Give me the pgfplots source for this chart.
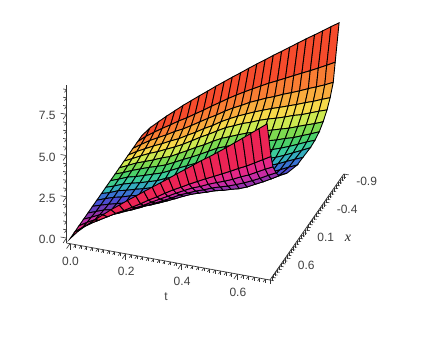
\documentclass[border=0pt]{standalone}
\usepackage{pgfplots}
\pgfplotsset{compat=1.18}
\usepackage{fontspec}
\setmainfont{Liberation Sans}
\newfontfamily\serifit{Liberation Serif}
\begin{document}
\begin{tikzpicture}[x=1pt,y=1pt]
\path[use as bounding box] (0,0) rectangle (426,341);
\begin{axis}[
  at={(108.9pt,158.1pt)},anchor=origin,
  x={(-278.8pt,50.7pt)},y={(38.9pt,55.8pt)},z={(0pt,16.5pt)},
  xmin=-0.717,xmax=0.0125,ymin=-1,ymax=0.9,zmin=-0.3,zmax=9.27,
  clip=false,
  axis x line=none,axis z line=none,axis y line=left,
  axis line style={-,line width=0.7pt,black!80},
  tick style={line width=0.6pt,black!80},tick align=outside,
  major tick length=5pt,minor tick length=4pt,
  xtick=\empty,ztick=\empty,
  ytick={-0.6,-0.1,0.4,0.9},yticklabels={0.6,0.1,-0.4,-0.9},
  minor ytick={-1,-0.95,-0.9,-0.85,-0.8,-0.75,-0.7,-0.65,-0.55,-0.5,-0.45,-0.4,-0.35,-0.3,-0.25,-0.2,-0.15,-0.05,0,0.05,0.1,0.15,0.2,0.25,0.3,0.35,0.45,0.5,0.55,0.6,0.65,0.7,0.75,0.8,0.85},
  tick label style={font=\fontsize{12}{14}\selectfont,text=black!75},
  yticklabel style={anchor=west,xshift=4pt,yshift=-6.5pt},
]
\end{axis}
\begin{axis}[
  at={(108.9pt,158.1pt)},anchor=origin,
  x={(278.8pt,-50.7pt)},y={(38.9pt,55.8pt)},z={(0pt,16.5pt)},
  xmin=-0.0125,xmax=0.717,ymin=-1,ymax=0.9,zmin=-0.3,zmax=9.27,
  clip=false,
  axis x line=bottom,axis y line=none,axis z line=left,
  axis line style={-,line width=0.7pt,black!80},
  tick style={line width=0.6pt,black!80},tick align=outside,
  major tick length=6pt,minor tick length=3.5pt,
  xtick={0,0.2,0.4,0.6},xticklabels={0.0,0.2,0.4,0.6},
  minor xtick={0.02,0.04,0.06,0.08,0.1,0.12,0.14,0.16,0.18,0.22,0.24,0.26,0.28,0.3,0.32,0.34,0.36,0.38,0.42,0.44,0.46,0.48,0.5,0.52,0.54,0.56,0.58,0.62,0.64,0.66,0.68,0.7},
  ytick=\empty,
  ztick={0,2.5,5,7.5},zticklabels={0.0,2.5,5.0,7.5},
  minor ztick={0.5,1,1.5,2,3,3.5,4,4.5,5.5,6,6.5,7,8,8.5,9},
  tick label style={font=\fontsize{12}{14}\selectfont,text=black!75},
  xticklabel style={anchor=center,xshift=4pt,yshift=-13pt},
  zticklabel style={anchor=east,xshift=-4pt,yshift=3.5pt},
  colormap={rb}{rgb255=(245,50,40) rgb255=(250,150,55) rgb255=(245,240,80) rgb255=(85,210,80) rgb255=(50,200,180) rgb255=(60,85,220) rgb255=(125,50,175) rgb255=(225,40,160) rgb255=(240,35,60)},
  point meta min=0,point meta max=16,
]
\addplot3[surf,shader=faceted,faceted color=black,line width=0.9pt,z buffer=none,mesh/cols=25,mesh/rows=17,
  point meta={floor(\coordindex/25)}]
table[row sep=\\,x=t,y=y,z=u]{t y u\\
0 .85 0\\.029 .85 .55\\.059 .85 1.01\\.088 .85 1.44\\.118 .85 1.86\\.147 .85 2.27\\.177 .85 2.66\\.206 .85 3.04\\.236 .85 3.42\\.265 .85 3.80\\.295 .85 4.17\\.324 .85 4.53\\.354 .85 4.89\\.383 .85 5.25\\.412 .85 5.60\\.442 .85 5.95\\.471 .85 6.30\\.501 .85 6.64\\.530 .85 6.98\\.560 .85 7.33\\.589 .85 7.67\\.619 .85 8.00\\.648 .85 8.33\\.678 .85 8.68\\.707 .85 9.00\\
0 .74 0\\.029 .74 .40\\.059 .74 .75\\.088 .74 1.07\\.118 .74 1.38\\.147 .74 1.70\\.177 .74 1.99\\.206 .74 2.31\\.236 .74 2.63\\.265 .74 2.96\\.295 .74 3.28\\.324 .74 3.60\\.354 .74 3.91\\.383 .74 4.19\\.412 .74 4.46\\.442 .74 4.73\\.471 .74 4.99\\.501 .74 5.23\\.530 .74 5.47\\.560 .74 5.72\\.589 .74 5.96\\.619 .74 6.20\\.648 .74 6.45\\.678 .74 6.71\\.707 .75 6.95\\
0 .62 0\\.029 .62 .32\\.059 .63 .62\\.088 .63 .88\\.118 .63 1.14\\.147 .64 1.40\\.177 .64 1.65\\.206 .64 1.94\\.236 .65 2.23\\.265 .65 2.53\\.295 .65 2.82\\.324 .66 3.11\\.354 .66 3.40\\.383 .66 3.64\\.412 .67 3.88\\.442 .67 4.10\\.471 .67 4.32\\.501 .67 4.51\\.530 .68 4.70\\.560 .68 4.89\\.589 .68 5.09\\.619 .69 5.28\\.648 .69 5.48\\.678 .69 5.69\\.707 .70 5.90\\
0 .50 0\\.029 .51 .27\\.059 .51 .53\\.088 .52 .75\\.118 .52 .98\\.147 .53 1.20\\.177 .53 1.43\\.206 .54 1.69\\.236 .54 1.97\\.265 .55 2.25\\.295 .55 2.52\\.324 .56 2.81\\.354 .56 3.08\\.383 .57 3.30\\.412 .57 3.51\\.442 .58 3.70\\.471 .58 3.89\\.501 .59 4.05\\.530 .59 4.21\\.560 .60 4.36\\.589 .60 4.53\\.619 .61 4.70\\.648 .61 4.87\\.678 .62 5.05\\.707 .62 5.24\\
0 .39 0\\.029 .39 .24\\.059 .40 .47\\.088 .41 .67\\.118 .41 .87\\.147 .42 1.07\\.177 .43 1.27\\.206 .43 1.52\\.236 .44 1.79\\.265 .45 2.06\\.295 .45 2.33\\.324 .46 2.59\\.354 .47 2.85\\.383 .47 3.05\\.412 .48 3.24\\.442 .48 3.41\\.471 .49 3.58\\.501 .50 3.72\\.530 .50 3.86\\.560 .51 3.99\\.589 .52 4.14\\.619 .52 4.28\\.648 .53 4.44\\.678 .54 4.60\\.707 .54 4.77\\
0 .27 0\\.029 .28 .20\\.059 .29 .41\\.088 .29 .58\\.118 .30 .74\\.147 .31 .92\\.177 .31 1.09\\.206 .32 1.33\\.236 .33 1.57\\.265 .34 1.82\\.295 .34 2.07\\.324 .35 2.33\\.354 .36 2.57\\.383 .36 2.76\\.412 .37 2.93\\.442 .38 3.09\\.471 .38 3.24\\.501 .39 3.36\\.530 .40 3.48\\.560 .41 3.60\\.589 .41 3.74\\.619 .42 3.90\\.648 .43 4.05\\.678 .43 4.22\\.707 .44 4.39\\
0 .16 0\\.029 .16 .17\\.059 .17 .36\\.088 .18 .51\\.118 .19 .66\\.147 .19 .81\\.177 .20 .96\\.206 .21 1.17\\.236 .22 1.40\\.265 .22 1.63\\.295 .23 1.86\\.324 .24 2.10\\.354 .25 2.35\\.383 .25 2.53\\.412 .26 2.69\\.442 .27 2.84\\.471 .28 2.98\\.501 .28 3.09\\.530 .29 3.20\\.560 .30 3.31\\.589 .31 3.45\\.619 .31 3.60\\.648 .32 3.77\\.678 .33 3.94\\.707 .34 4.12\\
0 .04 0\\.029 .05 .15\\.059 .06 .33\\.088 .06 .45\\.118 .07 .58\\.147 .08 .71\\.177 .09 .84\\.206 .10 1.04\\.236 .11 1.26\\.265 .11 1.48\\.295 .12 1.69\\.324 .13 1.93\\.354 .14 2.17\\.383 .15 2.34\\.412 .15 2.50\\.442 .16 2.65\\.471 .17 2.78\\.501 .18 2.88\\.530 .19 2.98\\.560 .19 3.10\\.589 .20 3.24\\.619 .21 3.41\\.648 .22 3.59\\.678 .23 3.79\\.707 .23 3.98\\
0 -.08 0\\.029 -.07 .14\\.059 -.06 .31\\.088 -.05 .42\\.118 -.05 .54\\.147 -.04 .66\\.177 -.03 .78\\.206 -.02 .97\\.236 -.02 1.17\\.265 -.01 1.38\\.295 0 1.58\\.324 .01 1.81\\.354 .02 2.05\\.383 .02 2.22\\.412 .03 2.38\\.442 .04 2.52\\.471 .04 2.65\\.501 .05 2.75\\.530 .06 2.85\\.560 .07 2.97\\.589 .07 3.12\\.619 .08 3.31\\.648 .09 3.51\\.678 .10 3.72\\.707 .11 3.93\\
0 -.19 0\\.029 -.19 .14\\.059 -.18 .32\\.088 -.18 .43\\.118 -.17 .55\\.147 -.17 .67\\.177 -.16 .80\\.206 -.16 .99\\.236 -.15 1.19\\.265 -.15 1.40\\.295 -.14 1.60\\.324 -.14 1.83\\.354 -.13 2.08\\.383 -.13 2.25\\.412 -.12 2.41\\.442 -.12 2.55\\.471 -.11 2.68\\.501 -.11 2.79\\.530 -.10 2.89\\.560 -.10 3.01\\.589 -.09 3.17\\.619 -.09 3.36\\.648 -.08 3.56\\.678 -.08 3.78\\.707 -.08 3.99\\
0 -.31 0\\.029 -.30 .15\\.059 -.30 .32\\.088 -.30 .43\\.118 -.29 .56\\.147 -.29 .68\\.177 -.29 .81\\.206 -.28 1.00\\.236 -.28 1.20\\.265 -.28 1.41\\.295 -.27 1.62\\.324 -.27 1.85\\.354 -.27 2.09\\.383 -.26 2.27\\.412 -.26 2.43\\.442 -.26 2.57\\.471 -.25 2.71\\.501 -.25 2.81\\.530 -.25 2.92\\.560 -.25 3.04\\.589 -.24 3.20\\.619 -.24 3.39\\.648 -.24 3.60\\.678 -.23 3.82\\.707 -.23 4.03\\
0 -.42 0\\.029 -.42 .16\\.059 -.43 .34\\.088 -.43 .47\\.118 -.43 .60\\.147 -.44 .73\\.177 -.44 .85\\.206 -.44 1.06\\.236 -.44 1.26\\.265 -.45 1.48\\.295 -.45 1.69\\.324 -.45 1.93\\.354 -.45 2.18\\.383 -.46 2.37\\.412 -.46 2.55\\.442 -.46 2.71\\.471 -.47 2.86\\.501 -.47 2.98\\.530 -.47 3.10\\.560 -.47 3.25\\.589 -.48 3.44\\.619 -.48 3.67\\.648 -.48 3.91\\.678 -.48 4.16\\.707 -.49 4.42\\
0 -.54 0\\.029 -.54 .18\\.059 -.55 .40\\.088 -.56 .54\\.118 -.56 .68\\.147 -.57 .83\\.177 -.58 .96\\.206 -.58 1.18\\.236 -.59 1.40\\.265 -.60 1.64\\.295 -.60 1.86\\.324 -.61 2.11\\.354 -.62 2.38\\.383 -.62 2.59\\.412 -.63 2.78\\.442 -.64 2.97\\.471 -.64 3.14\\.501 -.65 3.29\\.530 -.65 3.44\\.560 -.66 3.61\\.589 -.67 3.83\\.619 -.67 4.09\\.648 -.68 4.36\\.678 -.69 4.66\\.707 -.69 4.94\\
0 -.65 0\\.029 -.66 .24\\.059 -.66 .48\\.088 -.67 .66\\.118 -.67 .85\\.147 -.68 1.04\\.177 -.68 1.21\\.206 -.69 1.46\\.236 -.69 1.71\\.265 -.70 1.97\\.295 -.70 2.22\\.324 -.71 2.49\\.354 -.71 2.77\\.383 -.72 3.00\\.412 -.72 3.21\\.442 -.73 3.41\\.471 -.73 3.61\\.501 -.73 3.77\\.530 -.74 3.94\\.560 -.74 4.13\\.589 -.75 4.35\\.619 -.75 4.58\\.648 -.76 4.84\\.678 -.76 5.12\\.707 -.77 5.39\\
0 -.77 0\\.029 -.77 .30\\.059 -.78 .59\\.088 -.78 .82\\.118 -.78 1.06\\.147 -.79 1.30\\.177 -.79 1.53\\.206 -.79 1.80\\.236 -.80 2.08\\.265 -.80 2.36\\.295 -.80 2.64\\.324 -.81 2.93\\.354 -.81 3.21\\.383 -.81 3.46\\.412 -.81 3.70\\.442 -.82 3.92\\.471 -.82 4.14\\.501 -.82 4.34\\.530 -.83 4.54\\.560 -.83 4.75\\.589 -.83 4.99\\.619 -.84 5.23\\.648 -.84 5.49\\.678 -.84 5.76\\.707 -.85 6.02\\
0 -.88 0\\.029 -.88 .37\\.059 -.88 .71\\.088 -.88 1.00\\.118 -.88 1.29\\.147 -.88 1.58\\.177 -.88 1.85\\.206 -.88 2.14\\.236 -.88 2.44\\.265 -.88 2.75\\.295 -.88 3.04\\.324 -.88 3.35\\.354 -.88 3.65\\.383 -.89 3.93\\.412 -.89 4.20\\.442 -.89 4.46\\.471 -.89 4.71\\.501 -.89 4.95\\.530 -.89 5.19\\.560 -.89 5.44\\.589 -.89 5.70\\.619 -.90 5.97\\.648 -.90 6.25\\.678 -.90 6.54\\.707 -.90 6.82\\
0 -1 0\\.029 -1 .54\\.059 -1 .99\\.088 -1 1.41\\.118 -1 1.81\\.147 -1 2.21\\.177 -1 2.58\\.206 -1 2.95\\.236 -1 3.31\\.265 -1 3.67\\.295 -1 4.03\\.324 -1 4.38\\.354 -1 4.74\\.383 -1 5.11\\.412 -1 5.46\\.442 -1 5.82\\.471 -1 6.18\\.501 -1 6.52\\.530 -1 6.87\\.560 -1 7.24\\.589 -1 7.61\\.619 -1 7.99\\.648 -1 8.37\\.678 -1 8.76\\.707 -1 9.13\\
};
\end{axis}
\node[font=\fontsize{12}{14}\selectfont,text=black!75] at (166,44) {t};
\node[font=\fontsize{14}{14}\serifit\itshape,text=black!85] at (348,103) {x};
\end{tikzpicture}
\end{document}
